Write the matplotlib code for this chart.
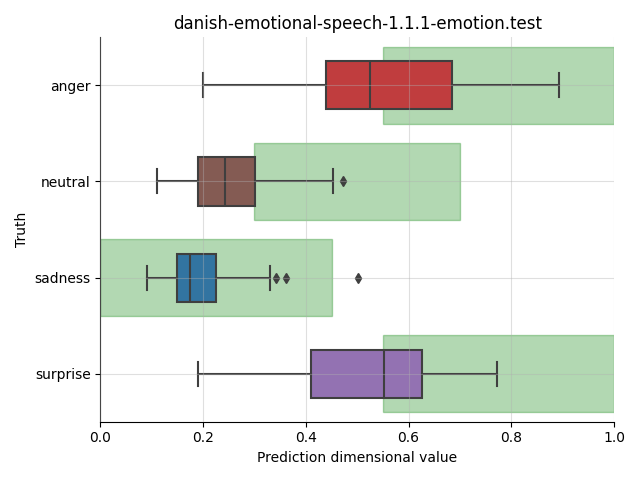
import matplotlib
matplotlib.use("Agg")
import matplotlib.pyplot as plt

# categories, top to bottom
labels = ["anger", "neutral", "sadness", "surprise"]

# box stats
whislo = [0.20, 0.111, 0.091, 0.191]
q1 = [0.440, 0.190, 0.149, 0.411]
med = [0.525, 0.242, 0.175, 0.552]
q3 = [0.685, 0.301, 0.225, 0.626]
whishi = [0.893, 0.452, 0.331, 0.772]
fliers = [[], [0.472], [0.342, 0.361, 0.502], []]

# green "expected range" bands per category
band_lo = [0.55, 0.30, 0.0, 0.55]
band_hi = [1.0, 0.70, 0.45, 1.0]

colors = ["#c03d3e", "#845b53", "#3274a1", "#9372b2"]

fig, ax = plt.subplots(figsize=(6.4, 4.8), dpi=100)

for i in range(len(labels)):
    ax.barh(i, band_hi[i] - band_lo[i], left=band_lo[i], height=0.8,
            color="green", alpha=0.3, edgecolor="green", linewidth=1, zorder=0.5)

stats = []
for i, lab in enumerate(labels):
    stats.append({"label": lab, "whislo": whislo[i], "q1": q1[i], "med": med[i],
                  "q3": q3[i], "whishi": whishi[i], "fliers": fliers[i]})

lc = "#3f3f3f"
bp = ax.bxp(stats, positions=range(len(labels)), vert=False, widths=0.5,
            patch_artist=True,
            boxprops=dict(edgecolor=lc, linewidth=1.5),
            medianprops=dict(color=lc, linewidth=1.5),
            whiskerprops=dict(color=lc, linewidth=1.5),
            capprops=dict(color=lc, linewidth=1.5),
            flierprops=dict(marker="d", markerfacecolor=lc, markeredgecolor=lc, markersize=5))
for patch, c in zip(bp["boxes"], colors):
    patch.set_facecolor(c)

ax.set_xlim(0, 1)
ax.set_ylim(3.5, -0.5)
ax.set_yticks(range(len(labels)))
ax.set_yticklabels(labels)
ax.set_axisbelow(False)
ax.grid(True, color="#b0b0b0", alpha=0.4, linewidth=0.8)
ax.spines["top"].set_visible(False)
ax.spines["right"].set_visible(False)

plt.title("danish-emotional-speech-1.1.1-emotion.test")
plt.xlabel("Prediction dimensional value")
plt.ylabel("Truth")
plt.tight_layout()
plt.savefig("out.png")
plt.close("all")
